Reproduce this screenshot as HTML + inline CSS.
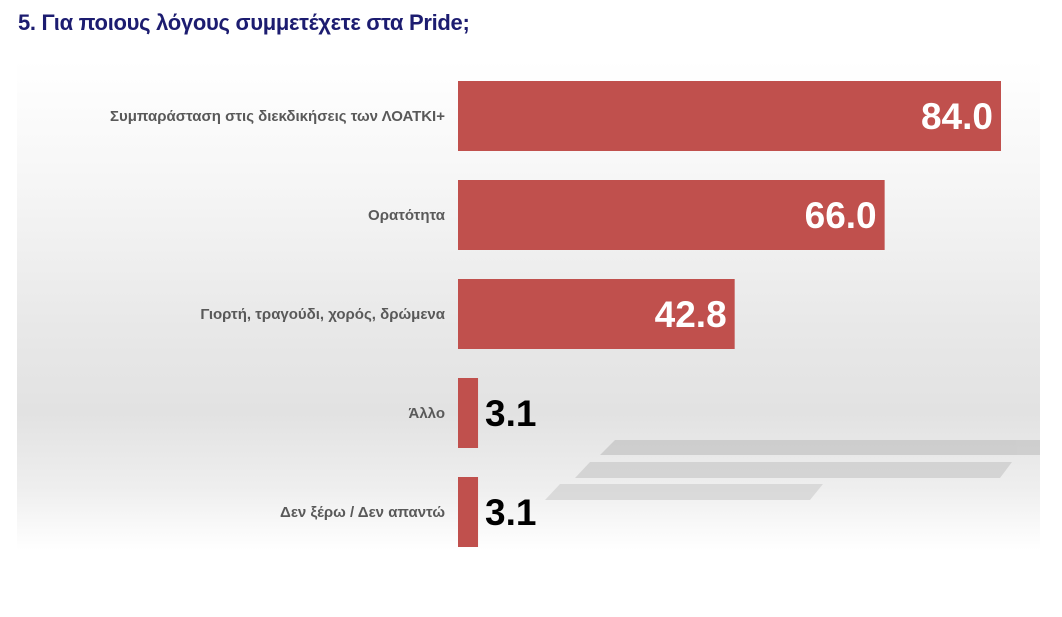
<!DOCTYPE html>
<html><head><meta charset="utf-8"><style>
body{margin:0;width:1062px;height:617px;background:#fff;overflow:hidden;font-family:"Liberation Sans",sans-serif;}
#bg{position:absolute;left:17px;top:60px;width:1023px;height:490px;
background:linear-gradient(to bottom,#fff 0%,#f6f6f6 25%,#e8e8e8 55%,#e2e2e2 72%,#efefef 88%,#fff 100%);}
.title{position:absolute;left:18px;top:10px;font-size:22px;font-weight:bold;color:#1c1c70;letter-spacing:-0.3px}
</style></head><body>
<div id="bg"></div>
<svg width="1062" height="617" style="position:absolute;left:0;top:0">
<g opacity="0.5">
<polygon points="615,440 1040,440 1040,455 600,455" fill="#b5b5b5"/>
<polygon points="590,462 1012,462 1000,478 575,478" fill="#bdbdbd"/>
<polygon points="560,484 823,484 810,500 545,500" fill="#c5c5c5"/>
</g>
<g id="bars"></g>
</svg>
<div class="title">5. Για ποιους λόγους συμμετέχετε στα Pride;</div>
<script>
const categories=["Συμπαράσταση στις διεκδικήσεις των ΛΟΑΤΚΙ+","Ορατότητα","Γιορτή, τραγούδι, χορός, δρώμενα","Άλλο","Δεν ξέρω / Δεν απαντώ"];
const values=[84.0,66.0,42.8,3.1,3.1];
const x0=458, scale=543/84, top0=81, step=99, bh=70;
const g=document.getElementById('bars');
const ns='http://www.w3.org/2000/svg';
function xs(v){return x0+v*scale;}
categories.forEach((c,i)=>{
 const y=top0+i*step, w=xs(values[i])-x0;
 const r=document.createElementNS(ns,'rect');
 
 
 r.setAttribute('x',x0);r.setAttribute('y',y);r.setAttribute('width',w);r.setAttribute('height',bh);r.setAttribute('fill','#c0504d');
 g.appendChild(r);
 const l=document.createElementNS(ns,'text');
 
 
 l.setAttribute('x',445);l.setAttribute('y',y+bh/2+5);l.setAttribute('text-anchor','end');
 l.setAttribute('font-size','15');l.setAttribute('font-weight','bold');l.setAttribute('fill','#595959');
 l.setAttribute('font-family','Liberation Sans, sans-serif');
 l.textContent=c;g.appendChild(l);
 const t=document.createElementNS(ns,'text');
 
 
 const inside=w>100;
 t.setAttribute('x',inside?xs(values[i])-8:xs(values[i])+7);
 t.setAttribute('y',y+bh/2+13);
 t.setAttribute('text-anchor',inside?'end':'start');
 t.setAttribute('font-size','37');t.setAttribute('font-weight','bold');
 t.setAttribute('fill',inside?'#fff':'#000');
 t.setAttribute('font-family','Liberation Sans, sans-serif');
 t.textContent=values[i].toFixed(1);g.appendChild(t);
});
</script>
</body></html>
